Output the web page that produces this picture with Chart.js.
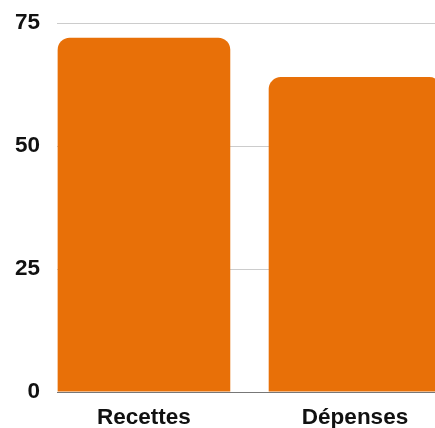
<!DOCTYPE html>
<html>
<head>
<meta charset="utf-8">
<script src="https://cdn.jsdelivr.net/npm/chart.js@4"></script>
<style>
  html, body { margin: 0; padding: 0; background: #fff; overflow: hidden; }
  canvas { display: block; }
</style>
</head>
<body>
<canvas id="chart" width="435" height="428"></canvas>
<script>
// data
const categories = ["Recettes", "Dépenses"];
const amounts = [72, 64];
const yTicks = [0, 25, 50, 75];

const barColor = "rgb(232, 112, 8)";
const labelFont = { family: "Liberation Sans, Arial, sans-serif", size: 22.5, weight: "bold" };

const ctx = document.getElementById("chart").getContext("2d");

new Chart(ctx, {
    type: "bar",
    data: {
        datasets: [{
            data: amounts.map((v, i) => ({ x: i, y: v })),
            backgroundColor: barColor,
            borderRadius: 12,
            borderSkipped: "start",
            barPercentage: 0.818,
            categoryPercentage: 1
        }]
    },
    options: {
        responsive: false,
        animation: false,
        layout: { padding: 0 },
        plugins: { legend: { display: false }, tooltip: { enabled: false } },
        scales: {
            x: {
                type: "linear",
                offset: false,
                min: -0.412,
                max: 1.379,
                afterBuildTicks: (s) => { s.ticks = categories.map((c, i) => ({ value: i })); },
                afterFit: (s) => { s.height = 36; s.paddingLeft = 0; s.paddingRight = 0; },
                grid: { display: false, drawTicks: false, offset: false },
                border: { display: true, color: "#777", width: 1 },
                ticks: {
                    padding: 12,
                    autoSkip: false,
                    maxRotation: 0,
                    color: "#111",
                    font: labelFont,
                    callback: (v) => categories[Math.round(v)] || ""
                }
            },
            y: {
                min: yTicks[0],
                max: yTicks[yTicks.length - 1],
                afterBuildTicks: (s) => { s.ticks = yTicks.map(v => ({ value: v })); },
                afterFit: (s) => { s.width = 57; s.paddingTop = 23; s.paddingBottom = 0; },
                grid: { color: "#cccccc", drawTicks: false },
                border: { display: false },
                ticks: {
                    padding: 17,
                    color: "#111",
                    font: labelFont
                }
            }
        }
    }
});
</script>
</body>
</html>
